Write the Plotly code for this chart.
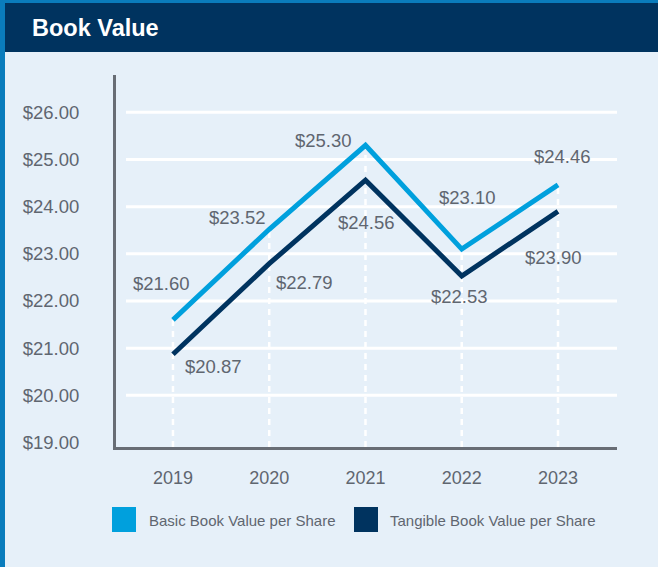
import plotly.graph_objects as go

years = ["2019", "2020", "2021", "2022", "2023"]
basic = [21.60, 23.52, 25.30, 23.10, 24.46]
tangible = [20.87, 22.79, 24.56, 22.53, 23.90]
ytick_vals = [19, 20, 21, 22, 23, 24, 25, 26]
ytick_text = ["$%.2f" % v for v in ytick_vals]
series_names = ["Basic Book Value per Share", "Tangible Book Value per Share"]
title_text = "Book Value"

C_BASIC = "#00a0dd"
C_TANG = "#00335f"
BG = "#e6f0f9"
TXT = "#5f6670"
AX = "#686d75"

W, H = 658, 567
L, R, T, B = 116, 41, 75, 120
PW, PH = W - L - R, H - T - B

def px(xp):
    return (xp - L) / PW

def py(yp):
    return (H - B - yp) / PH

xi = list(range(len(years)))

fig = go.Figure()
fig.add_trace(go.Scatter(x=xi, y=basic, mode="lines", name=series_names[0],
                         line=dict(color=C_BASIC, width=5), hoverinfo="skip"))
fig.add_trace(go.Scatter(x=xi, y=tangible, mode="lines", name=series_names[1],
                         line=dict(color=C_TANG, width=5), hoverinfo="skip"))

shapes = []
shapes.append(dict(type="rect", xref="paper", yref="paper", x0=px(0), x1=px(5), y0=py(H), y1=py(0),
                   fillcolor="#0a7cbc", line=dict(width=0), layer="below"))
shapes.append(dict(type="rect", xref="paper", yref="paper", x0=px(0), x1=px(W), y0=py(3), y1=py(0),
                   fillcolor="#0a7cbc", line=dict(width=0), layer="below"))
shapes.append(dict(type="rect", xref="paper", yref="paper", x0=px(5), x1=px(W), y0=py(52), y1=py(3),
                   fillcolor=C_TANG, line=dict(width=0), layer="below"))
for v in ytick_vals[1:]:
    shapes.append(dict(type="line", xref="paper", yref="y", x0=px(126), x1=1, y0=v, y1=v,
                       line=dict(color="white", width=3), layer="below"))
for i, v in enumerate(basic):
    shapes.append(dict(type="line", xref="x", yref="y", x0=i, x1=i, y0=18.905, y1=v,
                       line=dict(color="white", width=2.5, dash="6px,5px"), layer="below"))
shapes.append(dict(type="rect", xref="paper", yref="paper", x0=px(112), x1=px(136), y0=py(532), y1=py(507),
                   fillcolor=C_BASIC, line=dict(width=0)))
shapes.append(dict(type="rect", xref="paper", yref="paper", x0=px(354), x1=px(378), y0=py(532), y1=py(507),
                   fillcolor=C_TANG, line=dict(width=0)))

annotations = []
annotations.append(dict(text="<b>%s</b>" % title_text, xref="paper", yref="paper", x=px(30), y=py(28),
                        xanchor="left", yanchor="middle", showarrow=False,
                        font=dict(size=23.5, color="white", family="Liberation Sans, Arial, sans-serif")))
annotations.append(dict(text=series_names[0], xref="paper", yref="paper", x=px(147), y=py(520),
                        xanchor="left", yanchor="middle", showarrow=False,
                        font=dict(size=15, color=TXT)))
annotations.append(dict(text=series_names[1], xref="paper", yref="paper", x=px(388), y=py(520),
                        xanchor="left", yanchor="middle", showarrow=False,
                        font=dict(size=15, color=TXT)))

basic_off = [(-11, 36), (-32, 12), (-42, 5), (6, 52), (4, 28)]
tang_off = [(41, -12), (35, -19), (1, -42), (-2, -21), (-5, -46)]
for i, v in enumerate(basic):
    dx, dy = basic_off[i]
    annotations.append(dict(text="$%.2f" % v, x=i, y=v, xref="x", yref="y", showarrow=False,
                            xshift=dx, yshift=dy, xanchor="center", yanchor="middle",
                            font=dict(size=18.5, color=TXT)))
for i, v in enumerate(tangible):
    dx, dy = tang_off[i]
    annotations.append(dict(text="$%.2f" % v, x=i, y=v, xref="x", yref="y", showarrow=False,
                            xshift=dx, yshift=dy, xanchor="center", yanchor="middle",
                            font=dict(size=18.5, color=TXT)))

fig.update_layout(
    width=W, height=H,
    margin=dict(l=L, r=R, t=T, b=B, pad=0),
    paper_bgcolor=BG, plot_bgcolor=BG,
    showlegend=False,
    font=dict(family="Liberation Sans, Arial, sans-serif", color=TXT),
    shapes=shapes, annotations=annotations,
    xaxis=dict(range=[-0.592, 4.613], tickvals=xi, ticktext=years, showgrid=False, zeroline=False,
               showline=True, linecolor=AX, linewidth=3, ticks="", ticklabelstandoff=12,
               tickfont=dict(size=18, color=TXT), fixedrange=True),
    yaxis=dict(range=[18.905, 26.79], tickvals=ytick_vals, ticktext=ytick_text, showgrid=False,
               zeroline=False, showline=True, linecolor=AX, linewidth=3, ticks="",
               ticklabelstandoff=30, tickfont=dict(size=18.5, color=TXT), fixedrange=True),
)

fig.write_html("out.html", config={"displayModeBar": False},
               post_script="document.body.style.margin='0';document.body.style.overflow='hidden';")
